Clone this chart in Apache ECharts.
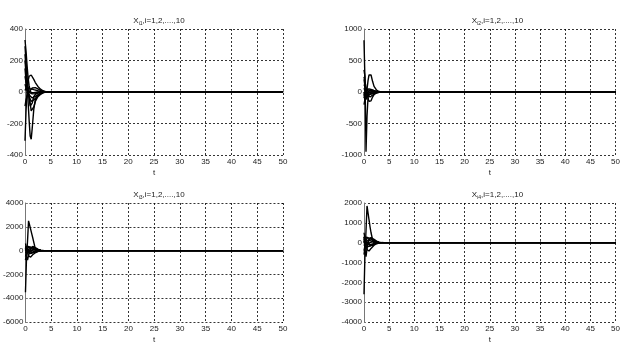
<!DOCTYPE html>
<html>
<head>
<meta charset="utf-8">
<script src="https://cdn.jsdelivr.net/npm/echarts@6/dist/echarts.min.js"></script>
<style>
  html, body { margin: 0; padding: 0; background: #fff; }
  #chart { width: 623px; height: 345px; }
</style>
</head>
<body>
<div id="chart"></div>
<script>
// time samples (t) shared by every trajectory
const tData = [0, 0.2, 0.4, 0.6, 0.8, 1.0, 1.2, 1.4, 1.7, 2.0, 2.5, 3.0, 3.5, 4.0, 4.5, 50];

// x_i1, i = 1..10
const x1 = [
  [330, 260, 170, 90, 40, 10, -5, -10, -5, 0, 0, 0, 0, 0, 0, 0],
  [290, 190, 90, 20, -40, -90, -100, -70, -30, -15, -5, 0, 0, 0, 0, 0],
  [240, 140, 40, -60, -180, -280, -300, -230, -110, -50, -20, -8, -2, 0, 0, 0],
  [-310, -120, 10, 70, 100, 110, 108, 100, 80, 60, 35, 18, 8, 2, 0, 0],
  [200, 110, 50, 10, -30, -70, -120, -130, -95, -60, -30, -15, -5, 0, 0, 0],
  [150, 70, 20, -10, -30, -45, -60, -60, -50, -40, -25, -12, -4, 0, 0, 0],
  [100, 60, 35, 25, 20, 20, 20, 18, 15, 12, 8, 4, 1, 0, 0, 0],
  [-90, -50, -25, -10, 0, 10, 20, 25, 30, 28, 20, 10, 4, 0, 0, 0],
  [50, 25, 10, -5, -15, -25, -35, -38, -35, -28, -18, -8, -2, 0, 0, 0],
  [10, 25, 15, 5, 0, -5, -10, -12, -12, -10, -6, -2, 0, 0, 0, 0]
];

// x_i2
const x2 = [
  [820, 150, -120, -60, -20, 0, 0, 0, 0, 0, 0, 0, 0, 0, 0, 0],
  [350, 240, -950, -380, -90, -20, 0, 0, 0, 0, 0, 0, 0, 0, 0, 0],
  [240, 230, 80, -20, -100, -150, -160, -140, -80, -40, -15, -5, 0, 0, 0, 0],
  [0, -150, -90, 40, 180, 270, 300, 270, 170, 90, 30, 8, 0, 0, 0, 0],
  [200, 90, 40, 0, -40, -70, -80, -70, -50, -30, -12, -4, 0, 0, 0, 0],
  [-100, -40, 10, 45, 55, 50, 45, 40, 30, 20, 10, 3, 0, 0, 0, 0],
  [120, 80, 55, 35, 15, 0, -15, -25, -25, -18, -8, -2, 0, 0, 0, 0],
  [-200, -110, -50, -20, 0, 15, 25, 30, 28, 20, 10, 3, 0, 0, 0, 0],
  [60, 20, 0, -20, -30, -38, -40, -35, -28, -18, -8, -2, 0, 0, 0, 0],
  [-60, 0, 30, 40, 38, 30, 22, 15, 10, 5, 2, 0, 0, 0, 0, 0]
];

// x_i3
const x3 = [
  [-3500, -700, 800, 2500, 2150, 1800, 1450, 1100, 550, 0, 0, 0, 0, 0, 0, 0],
  [200, -500, -800, -400, -100, 150, 300, 350, 280, 180, 70, 20, 0, 0, 0, 0],
  [600, 250, -150, -450, -600, -550, -450, -350, -250, -160, -70, -20, 0, 0, 0, 0],
  [0, 300, 450, 350, 250, 200, 250, 300, 300, 220, 100, 30, 5, 0, 0, 0],
  [-500, -200, 0, 100, 0, -100, -180, -200, -170, -110, -50, -15, 0, 0, 0, 0],
  [300, 100, -100, -200, -250, -250, -220, -180, -130, -80, -30, -8, 0, 0, 0, 0],
  [-800, -300, 100, 300, 350, 300, 250, 200, 160, 110, 50, 15, 0, 0, 0, 0],
  [100, 0, -100, -150, -100, -50, 0, 50, 80, 70, 30, 8, 0, 0, 0, 0],
  [-200, -100, 0, 100, 150, 150, 130, 110, 80, 50, 20, 5, 0, 0, 0, 0],
  [400, 200, 50, -50, -100, -120, -120, -110, -80, -50, -20, -5, 0, 0, 0, 0]
];

// x_i4
const x4 = [
  [-2600, -500, 600, 1850, 1500, 1150, 800, 500, 150, 0, 0, 0, 0, 0, 0, 0],
  [300, -400, -700, -300, -50, 150, 250, 260, 200, 130, 50, 12, 0, 0, 0, 0],
  [500, 200, -100, -350, -450, -420, -350, -290, -210, -130, -55, -15, 0, 0, 0, 0],
  [0, 250, 350, 280, 200, 150, 200, 240, 230, 170, 80, 25, 5, 0, 0, 0],
  [-400, -150, 0, 80, 0, -80, -150, -160, -130, -85, -35, -10, 0, 0, 0, 0],
  [200, 80, -80, -150, -200, -200, -170, -140, -100, -60, -25, -6, 0, 0, 0, 0],
  [-600, -200, 80, 250, 280, 240, 200, 170, 130, 85, 35, 10, 0, 0, 0, 0],
  [80, 0, -80, -120, -80, -40, 0, 40, 60, 50, 22, 6, 0, 0, 0, 0],
  [-150, -80, 0, 80, 120, 120, 105, 90, 65, 40, 15, 4, 0, 0, 0, 0],
  [300, 150, 40, -40, -80, -100, -100, -90, -65, -40, -15, -4, 0, 0, 0, 0]
];

const panels = [x1, x2, x3, x4];
const subs = ['i1', 'i2', 'i3', 'i4'];
const yMin = [-400, -1000, -6000, -4000];
const yMax = [400, 1000, 4000, 2000];
const yStep = [200, 500, 2000, 1000];

const grids = [
  { left: 25, top: 29, width: 258, height: 126 },
  { left: 364, top: 29, width: 257, height: 126 },
  { left: 25, top: 203, width: 258, height: 124 },
  { left: 364, top: 203, width: 257, height: 124 }
];

const font = 'Arial, "Liberation Sans", sans-serif';
const gridLine = { show: true, lineStyle: { color: '#000', type: [2, 2], width: 0.8 } };

const chart = echarts.init(document.getElementById('chart'));

const xAxes = grids.map((g, i) => ({
  type: 'value', gridIndex: i, min: 0, max: 50, interval: 5,
  name: 't', nameLocation: 'middle', nameGap: 14,
  nameTextStyle: { fontSize: 8, color: '#222', fontFamily: font },
  axisLine: { lineStyle: { color: '#777', width: 1 } },
  axisTick: { inside: true, length: 2, lineStyle: { color: '#777' } },
  axisLabel: { fontSize: 8, color: '#222', margin: 3, fontFamily: font },
  splitLine: gridLine
}));

const yAxes = grids.map((g, i) => ({
  type: 'value', gridIndex: i, min: yMin[i], max: yMax[i], interval: yStep[i],
  axisLine: { show: true, onZero: false, lineStyle: { color: '#777', width: 1 } },
  axisTick: { inside: true, length: 2, lineStyle: { color: '#777' } },
  axisLabel: { fontSize: 8, color: '#222', margin: 2, fontFamily: font, formatter: v => String(v) },
  splitLine: gridLine
}));

const titles = grids.map((g, i) => ({
  text: '{n|X}{s|' + subs[i] + '}{n|,i=1,2,....,10}',
  left: g.left + g.width / 2, top: g.top - 18, textAlign: 'center',
  textStyle: {
    fontWeight: 'normal',
    rich: {
      n: { fontSize: 8, color: '#222', fontFamily: font, fontWeight: 'normal' },
      s: { fontSize: 5, color: '#222', fontFamily: font, fontWeight: 'normal', verticalAlign: 'bottom', padding: [5, 0, 0, 0] }
    }
  }
}));

const series = [];
panels.forEach((trajs, p) => {
  trajs.forEach((vals, k) => {
    series.push({
      type: 'line', xAxisIndex: p, yAxisIndex: p,
      name: 'x' + (k + 1) + subs[p].slice(1),
      data: tData.map((t, j) => [t, vals[j]]),
      showSymbol: false, symbol: 'none',
      lineStyle: { color: '#000', width: 1.4 },
      z: 3
    });
  });
});

chart.setOption({
  animation: false,
  backgroundColor: '#fff',
  title: titles,
  grid: grids,
  xAxis: xAxes,
  yAxis: yAxes,
  series: series
});
</script>
</body>
</html>
